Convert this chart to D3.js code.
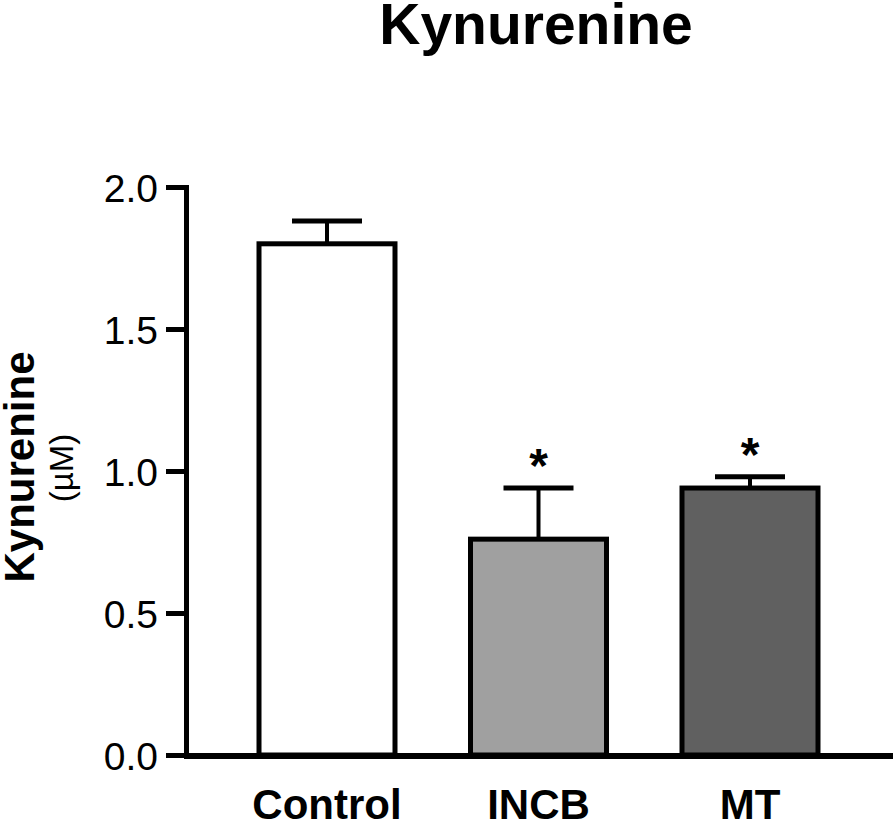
<!DOCTYPE html>
<html>
<head>
<meta charset="utf-8">
<script src="https://cdn.jsdelivr.net/npm/d3@7"></script>
<style>
  html, body { margin: 0; padding: 0; background: #fff; }
  svg { display: block; }
</style>
</head>
<body>
<svg id="chart" width="896" height="826"></svg>
<script>
// ---- data ----
const categories = ["Control", "INCB", "MT"];
const means = [1.80, 0.76, 0.94];
const upperError = [1.88, 0.94, 0.98];   // mean + SEM
const significant = [false, true, true];
const barFills = ["#ffffff", "#a0a0a0", "#606060"];
const yTicks = [0.0, 0.5, 1.0, 1.5, 2.0];
const titleText = "Kynurenine";
const yLabel = "Kynurenine";
const yUnit = "(µM)";

const svg = d3.select("#chart");
const font = "'Liberation Sans', Arial, sans-serif";

const y = d3.scaleLinear().domain([0, 2.0]).range([755, 187]);
const x = d3.scaleBand().domain(categories)
  .range([221.25, 855.75]).paddingInner(0.357).paddingOuter(0.1785);

// title
svg.append("text")
  .attr("x", 536).attr("y", 44)
  .attr("text-anchor", "middle")
  .attr("font-family", font).attr("font-weight", "bold")
  .attr("font-size", 57)
  .text(titleText);

// y label
svg.append("text")
  .attr("transform", "translate(34,467) rotate(-90)")
  .attr("text-anchor", "middle")
  .attr("font-family", font).attr("font-weight", "bold")
  .attr("font-size", 42)
  .text(yLabel);
svg.append("text")
  .attr("transform", "translate(73,468) rotate(-90)")
  .attr("text-anchor", "middle")
  .attr("font-family", font)
  .attr("font-size", 33)
  .text(yUnit);

// bars
const data = categories.map((c, i) => ({ c, m: means[i], u: upperError[i], s: significant[i], f: barFills[i] }));
const bw = x.bandwidth();

const g = svg.append("g");
g.selectAll(".err").data(data).enter().append("line")
  .attr("x1", d => x(d.c) + bw / 2).attr("x2", d => x(d.c) + bw / 2)
  .attr("y1", d => y(d.m)).attr("y2", d => y(d.u))
  .attr("stroke", "#000").attr("stroke-width", 4);
g.selectAll(".cap").data(data).enter().append("line")
  .attr("x1", d => x(d.c) + bw / 2 - 35).attr("x2", d => x(d.c) + bw / 2 + 35)
  .attr("y1", d => y(d.u)).attr("y2", d => y(d.u))
  .attr("stroke", "#000").attr("stroke-width", 5);

g.selectAll(".bar").data(data).enter().append("rect")
  .attr("x", d => x(d.c)).attr("width", bw)
  .attr("y", d => y(d.m)).attr("height", d => y(0) - y(d.m))
  .attr("fill", d => d.f)
  .attr("stroke", "#000").attr("stroke-width", 5);

// asterisks
g.selectAll(".star").data(data.filter(d => d.s)).enter().append("text")
  .attr("x", d => x(d.c) + bw / 2)
  .attr("y", d => y(d.u) - 6)
  .attr("text-anchor", "middle")
  .attr("font-family", font).attr("font-weight", "bold")
  .attr("font-size", 48)
  .text("*");

// y axis
const yAxis = d3.axisLeft(y).tickValues(yTicks).tickFormat(d3.format(".1f"))
  .tickSize(20).tickPadding(8).tickSizeOuter(0);
const ya = svg.append("g").attr("transform", "translate(186,0)").call(yAxis);
ya.select(".domain").attr("stroke", "#000").attr("stroke-width", 5).attr("stroke-linecap", "square");
ya.selectAll(".tick line").attr("stroke", "#000").attr("stroke-width", 5);
ya.selectAll(".tick text").attr("font-family", font).attr("font-size", 39).attr("fill", "#000").attr("dy", "0.36em");

// x axis
svg.append("line")
  .attr("x1", 184).attr("x2", 893)
  .attr("y1", y(0) + 1).attr("y2", y(0) + 1)
  .attr("stroke", "#000").attr("stroke-width", 6);

svg.append("g").selectAll("text").data(categories).enter().append("text")
  .attr("x", d => x(d) + bw / 2)
  .attr("y", 819)
  .attr("text-anchor", "middle")
  .attr("font-family", font).attr("font-weight", "bold")
  .attr("font-size", 42)
  .text(d => d);
</script>
</body>
</html>
